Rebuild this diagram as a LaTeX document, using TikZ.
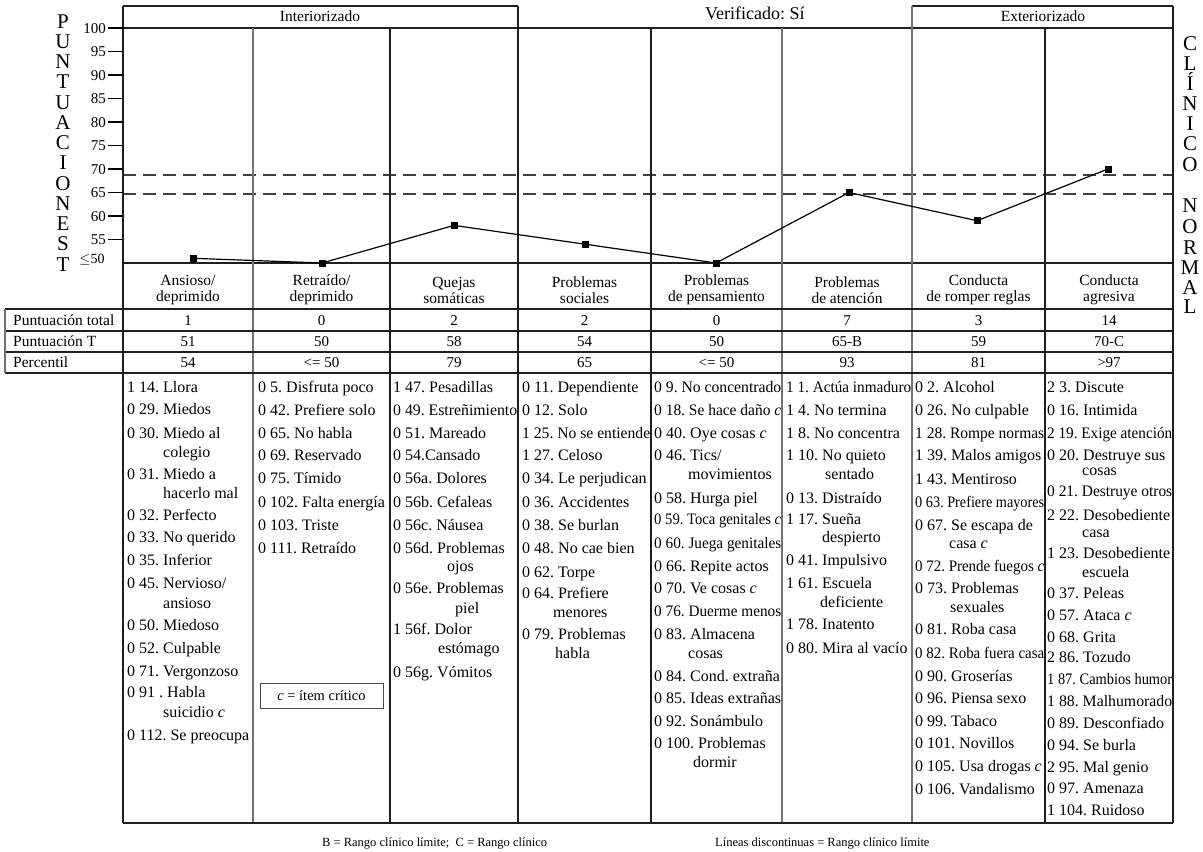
\documentclass[tikz,border=0pt]{standalone}
\usepackage{fontspec}
\setmainfont{Liberation Serif}
\usepackage{graphicx}
\frenchspacing

% available width inside the current item column
\newlength\colw
\newlength\itw
% squeeze a line horizontally when it is wider than its column
\newcommand\fitw[1]{\settowidth\itw{#1}\ifdim\itw>\colw\resizebox{\colw}{\height}{#1}\else#1\fi}
\newcounter{ln}
\newcommand\itm[3]{\stepcounter{ln}\node[itm] (ln\arabic{ln}) at (#1,#2) {\fitw{#3}};}
\newcommand\crit{\textit{c}}

\begin{document}
\begin{tikzpicture}[x=1pt,y=-1pt,
  itm/.style={anchor=west,inner sep=0pt,text height=10.5pt,text depth=0pt,font=\fontsize{16}{18}\selectfont},
  hdr/.style={align=center,inner sep=0pt,font=\fontsize{15.5}{16}\selectfont},
  val/.style={inner sep=0pt,text height=10.5pt,text depth=0pt,font=\fontsize{15}{16}\selectfont},
  rowlab/.style={anchor=west,inner sep=0pt,text height=10.5pt,text depth=0pt,font=\fontsize{15.5}{16}\selectfont},
  ticklab/.style={anchor=east,inner sep=0pt,text height=10pt,text depth=0pt,font=\fontsize{15}{16}\selectfont},
  vlet/.style={inner sep=0pt,text height=14pt,text depth=0pt,font=\fontsize{21}{21}\selectfont},
  foot/.style={anchor=west,inner sep=0pt,text height=9pt,text depth=0pt,font=\fontsize{12.5}{14}\selectfont},
  frame/.style={line width=1.3pt,black!88},
  softline/.style={line width=1.5pt,black!55},
  limit/.style={line width=1.2pt,black!75,dash pattern=on 13pt off 7pt},
  profile/.style={line width=1.2pt,black},
  mark box/.style={fill=black,inner sep=0pt,minimum size=7pt}]

\fill[white] (0,0) rectangle (1203,852);
\useasboundingbox (0,0) rectangle (1203,852);

% ---- clinical / borderline limits
\draw[limit] (123,175) -- (1173,175);
\draw[limit] (123,194) -- (1173,194);

% ---- frame and grid
\draw[frame] (123,6) -- (518,6);
\draw[frame] (912,6) -- (1173,6);
\draw[frame] (123,28) -- (1173,28);
\draw[frame] (123,263) -- (1173,263);
\draw[frame] (123,6) -- (123,823);
\draw[frame] (1173,6) -- (1173,823);
\draw[frame] (518,6) -- (518,823);
\draw[softline] (912,6) -- (912,823);
\draw[softline] (253,28) -- (253,823);
\draw[frame] (390,28) -- (390,823);
\draw[frame] (651,28) -- (651,823);
\draw[softline] (782,28) -- (782,823);
\draw[frame] (1045,28) -- (1045,823);
\draw[frame] (123,823) -- (1173,823);
\foreach \yy in {309,331,352,373} \draw[frame] (5,\yy) -- (1173,\yy);
\draw[softline] (5,309) -- (5,373);

% ---- group headers
\node[hdr] (interior) at (320,16) {Interiorizado};
\node[hdr] (exterior) at (1043,16) {Exteriorizado};
\node[anchor=west,inner sep=0pt,font=\fontsize{18}{20}\selectfont] (verif) at (705,13) {Verificado: Sí};

% ---- vertical scale
\foreach \v in {55,60,...,100} {
  \draw[line width=1.2pt] (108,{263-4.7*(\v-50)}) -- (123,{263-4.7*(\v-50)});
  \node[ticklab] (tk\v) at (106,{263-4.7*(\v-50)}) {\v};
}
\node[inner sep=0pt,font=\fontsize{14}{15}\selectfont] (tk50) at (92,260) {$\leq$50};

% ---- side titles
\foreach \ch [count=\k from 0] in {P,U,N,T,U,A,C,I,O,N,E,S,T}
  \node[vlet] (lt\k) at (63,{21+20.25*\k}) {\ch};
\foreach \ch/\yy [count=\k] in {C/43,L/63,Í/83,N/103,I/123,C/143,O/164,N/205,O/226,R/247,M/267,A/287,L/306}
  \node[vlet] (rt\k) at (1190,\yy) {\ch};

% ---- T-score profile
\coordinate (c1) at (193,258.3);
\coordinate (c2) at (322,263);
\coordinate (c3) at (454,225.4);
\coordinate (c4) at (585,244.2);
\coordinate (c5) at (716,263);
\coordinate (c6) at (849,192.5);
\coordinate (c7) at (977,220.7);
\coordinate (c8) at (1108,169);
\draw[profile] (c1) -- (c2) -- (c3) -- (c4) -- (c5) -- (c6) -- (c7) -- (c8);
\foreach \i in {1,...,8} \node[mark box] (p\i) at (c\i) {};

% ---- scale names
\node[hdr] (h1) at (188,290) {Ansioso/\\deprimido};
\node[hdr] (h2) at (321.5,290) {Retraído/\\deprimido};
\node[hdr] (h3) at (454,290) {Quejas\\somáticas};
\node[hdr] (h4) at (584.5,290) {Problemas\\sociales};
\node[hdr] (h5) at (716.5,290) {Problemas\\de pensamiento};
\node[hdr] (h6) at (847,290) {Problemas\\de atención};
\node[hdr] (h7) at (978.5,290) {Conducta\\de romper reglas};
\node[hdr] (h8) at (1109,290) {Conducta\\agresiva};

% ---- score rows
\node[rowlab] (r1) at (13,320) {Puntuación total};
\node[rowlab] (r2) at (13,341.5) {Puntuación T};
\node[rowlab] (r3) at (13,362.5) {Percentil};
\foreach \xx/\a/\b/\c [count=\k] in {188/1/51/54, 321.5/0/50/{<= 50}, 454/2/58/79, 584.5/2/54/65,
    716.5/0/50/{<= 50}, 847/7/65-B/93, 978.5/3/59/81, 1109/14/70-C/{>97}} {
  \node[val] (ta\k) at (\xx,320) {\a};
  \node[val] (tb\k) at (\xx,341.5) {\b};
  \node[val] (tc\k) at (\xx,362.5) {\c};
}

% ---- item lists
\setlength\colw{124pt}
\itm{127}{387}{1 14. Llora}
\itm{127}{409}{0 29. Miedos}
\itm{127}{433}{0 30. Miedo al}
\itm{163}{452}{colegio}
\itm{127}{474}{0 31. Miedo a}
\itm{163}{493}{hacerlo mal}
\itm{127}{515}{0 32. Perfecto}
\itm{127}{537}{0 33. No querido}
\itm{127}{560}{0 35. Inferior}
\itm{127}{583}{0 45. Nervioso/}
\itm{163}{603}{ansioso}
\itm{127}{625}{0 50. Miedoso}
\itm{127}{648}{0 52. Culpable}
\itm{127}{671}{0 71. Vergonzoso}
\itm{127}{692}{0 91 . Habla}
\itm{163}{712}{suicidio \crit}
\itm{127}{735}{0 112. Se preocupa}

\setlength\colw{130pt}
\itm{258}{387}{0 5. Disfruta poco}
\itm{258}{410}{0 42. Prefiere solo}
\itm{258}{433}{0 65. No habla}
\itm{258}{455}{0 69. Reservado}
\itm{258}{478}{0 75. Tímido}
\itm{258}{502}{0 102. Falta energía}
\itm{258}{525}{0 103. Triste}
\itm{258}{548}{0 111. Retraído}
\node[draw=black!70,line width=1pt,minimum width=123pt,minimum height=25pt,inner sep=0pt,
  font=\fontsize{14.5}{16}\selectfont] (key) at (321.5,695.5) {\crit{} = ítem crítico};

\setlength\colw{124pt}
\itm{393}{387}{1 47. Pesadillas}
\itm{393}{410}{0 49. Estreñimiento}
\itm{393}{433}{0 51. Mareado}
\itm{393}{455}{0 54.Cansado}
\itm{393}{478}{0 56a. Dolores}
\itm{393}{502}{0 56b. Cefaleas}
\itm{393}{525}{0 56c. Náusea}
\itm{393}{548}{0 56d. Problemas}
\itm{447}{566}{ojos}
\itm{393}{588}{0 56e. Problemas}
\itm{455}{608}{piel}
\itm{393}{629}{1 56f. Dolor}
\itm{438}{648}{estómago}
\itm{393}{672}{0 56g. Vómitos}

\setlength\colw{128pt}
\itm{522}{387}{0 11. Dependiente}
\itm{522}{410}{0 12. Solo}
\itm{522}{433}{1 25. No se entiende}
\itm{522}{455}{1 27. Celoso}
\itm{522}{478}{0 34. Le perjudican}
\itm{522}{502}{0 36. Accidentes}
\itm{522}{525}{0 38. Se burlan}
\itm{522}{548}{0 48. No cae bien}
\itm{522}{572}{0 62. Torpe}
\itm{522}{593}{0 64. Prefiere}
\itm{553}{612}{menores}
\itm{522}{634}{0 79. Problemas}
\itm{555}{653}{habla}

\setlength\colw{127pt}
\itm{654}{387}{0 9. No concentrado}
\itm{654}{410}{0 18. Se hace daño \crit}
\itm{654}{433}{0 40. Oye cosas \crit}
\itm{654}{455}{0 46. Tics/}
\itm{688}{474}{movimientos}
\itm{654}{498}{0 58. Hurga piel}
\itm{654}{519}{0 59. Toca genitales \crit}
\itm{654}{543}{0 60. Juega genitales}
\itm{654}{566}{0 66. Repite actos}
\itm{654}{588}{0 70. Ve cosas \crit}
\itm{654}{611}{0 76. Duerme menos}
\itm{654}{634}{0 83. Almacena}
\itm{688}{653}{cosas}
\itm{654}{676}{0 84. Cond. extraña}
\itm{654}{698}{0 85. Ideas extrañas}
\itm{654}{721}{0 92. Sonámbulo}
\itm{654}{743}{0 100. Problemas}
\itm{693}{762}{dormir}

\setlength\colw{125pt}
\itm{786}{387}{1 1. Actúa inmaduro}
\itm{786}{410}{1 4. No termina}
\itm{786}{433}{1 8. No concentra}
\itm{786}{455}{1 10. No quieto}
\itm{825}{474}{sentado}
\itm{786}{498}{0 13. Distraído}
\itm{786}{519}{1 17. Sueña}
\itm{822}{537}{despierto}
\itm{786}{560}{0 41. Impulsivo}
\itm{786}{583}{1 61. Escuela}
\itm{820}{602}{deficiente}
\itm{786}{624}{1 78. Inatento}
\itm{786}{648}{0 80. Mira al vacío}

\setlength\colw{129pt}
\itm{915}{387}{0 2. Alcohol}
\itm{915}{410}{0 26. No culpable}
\itm{915}{433}{1 28. Rompe normas}
\itm{915}{455}{1 39. Malos amigos}
\itm{915}{479}{1 43. Mentiroso}
\itm{915}{502}{0 63. Prefiere mayores}
\itm{915}{525}{0 67. Se escapa de}
\itm{949}{543}{casa \crit}
\itm{915}{566}{0 72. Prende fuegos \crit}
\itm{915}{588}{0 73. Problemas}
\itm{950}{607}{sexuales}
\itm{915}{629}{0 81. Roba casa}
\itm{915}{653}{0 82. Roba fuera casa}
\itm{915}{676}{0 90. Groserías}
\itm{915}{698}{0 96. Piensa sexo}
\itm{915}{721}{0 99. Tabaco}
\itm{915}{743}{0 101. Novillos}
\itm{915}{766}{0 105. Usa drogas \crit}
\itm{915}{789}{0 106. Vandalismo}

\setlength\colw{125pt}
\itm{1047}{387}{2 3. Discute}
\itm{1047}{410}{0 16. Intimida}
\itm{1047}{433}{2 19. Exige atención}
\itm{1047}{455}{0 20. Destruye sus}
\itm{1082}{470}{cosas}
\itm{1047}{491}{0 21. Destruye otros}
\itm{1047}{515}{2 22. Desobediente}
\itm{1082}{532}{casa}
\itm{1047}{553}{1 23. Desobediente}
\itm{1082}{572}{escuela}
\itm{1047}{593}{0 37. Peleas}
\itm{1047}{615}{0 57. Ataca \crit}
\itm{1047}{637}{0 68. Grita}
\itm{1047}{657}{2 86. Tozudo}
\itm{1047}{679}{1 87. Cambios humor}
\itm{1047}{701}{1 88. Malhumorado}
\itm{1047}{723}{0 89. Desconfiado}
\itm{1047}{745}{0 94. Se burla}
\itm{1047}{767}{2 95. Mal genio}
\itm{1047}{788}{0 97. Amenaza}
\itm{1047}{810}{1 104. Ruidoso}

% ---- legend
\node[foot] (leg1) at (322,842) {B = Rango clínico límite;\ \ C = Rango clínico};
\node[foot] (leg2) at (715,842) {Líneas discontinuas = Rango clínico límite};

\end{tikzpicture}
\end{document}
